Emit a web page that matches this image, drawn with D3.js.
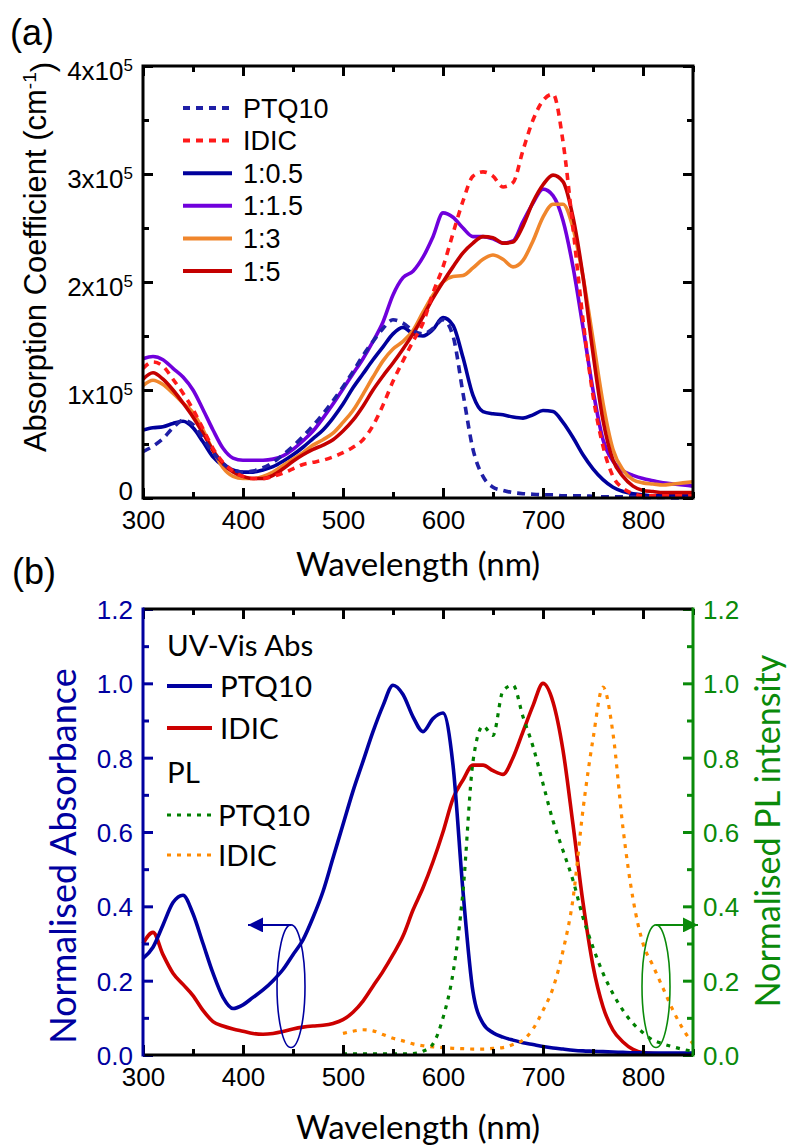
<!DOCTYPE html>
<html>
<head>
<meta charset="utf-8">
<script src="https://cdn.jsdelivr.net/npm/d3@7"></script>
<style>
  html, body { margin: 0; padding: 0; background: #fff; }
  svg { display: block; }
</style>
</head>
<body>
<svg id="fig" width="789" height="1147"></svg>
<script>
// ---------- Panel (a): absorption coefficient of neat films and blends (units of 1e5 cm^-1) ----------
const wlA = [300,310,320,330,340,350,360,370,380,390,400,410,420,430,440,450,460,470,480,490,
             500,510,520,530,540,550,560,570,580,590,600,610,620,630,640,650,660,670,680,690,
             700,710,720,730,740,750,760,770,780,790,800,810,820,830,840,850];

const absPTQ10 = [0.43,0.48,0.55,0.65,0.72,0.68,0.55,0.42,0.32,0.26,0.24,0.25,0.28,0.33,0.40,0.48,0.57,0.67,0.78,0.90,
                  1.03,1.17,1.32,1.45,1.57,1.65,1.62,1.55,1.52,1.57,1.65,1.50,0.97,0.45,0.20,0.10,0.07,0.05,0.04,0.035,
                  0.03,0.03,0.02,0.02,0.02,0.015,0.01,0.01,0.01,0.01,0.005,0.005,0.005,0.0,0.0,0.0];
const absIDIC  = [1.20,1.26,1.22,1.10,0.97,0.82,0.64,0.46,0.33,0.25,0.20,0.18,0.18,0.20,0.23,0.27,0.31,0.33,0.35,0.38,
                  0.42,0.47,0.54,0.67,0.86,1.08,1.27,1.45,1.62,1.90,2.14,2.45,2.75,2.98,3.02,2.98,2.88,2.92,3.22,3.50,
                  3.68,3.74,3.30,2.50,1.65,0.95,0.48,0.20,0.09,0.04,0.02,0.02,0.02,0.02,0.02,0.02];
const abs1to05 = [0.63,0.65,0.66,0.69,0.71,0.65,0.52,0.38,0.30,0.26,0.24,0.24,0.26,0.29,0.34,0.40,0.47,0.55,0.63,0.74,
                  0.87,1.02,1.15,1.28,1.40,1.52,1.58,1.52,1.50,1.56,1.67,1.60,1.30,0.95,0.80,0.78,0.77,0.75,0.74,0.77,
                  0.81,0.80,0.70,0.56,0.40,0.27,0.17,0.10,0.06,0.04,0.03,0.02,0.02,0.02,0.02,0.02];
const abs1to15 = [1.29,1.31,1.28,1.20,1.12,1.00,0.82,0.63,0.46,0.37,0.35,0.35,0.35,0.36,0.39,0.45,0.53,0.62,0.74,0.87,
                  1.01,1.15,1.29,1.45,1.63,1.88,2.04,2.10,2.23,2.42,2.64,2.60,2.50,2.42,2.42,2.40,2.36,2.38,2.56,2.73,
                  2.86,2.80,2.57,2.14,1.58,1.00,0.54,0.34,0.25,0.21,0.18,0.16,0.14,0.13,0.12,0.11];
const abs1to3  = [1.04,1.09,1.05,0.97,0.88,0.79,0.63,0.44,0.28,0.20,0.18,0.18,0.20,0.24,0.30,0.36,0.42,0.49,0.54,0.60,
                  0.70,0.81,0.96,1.12,1.27,1.38,1.45,1.55,1.72,1.88,2.00,2.05,2.06,2.13,2.21,2.25,2.21,2.14,2.20,2.38,
                  2.60,2.72,2.72,2.50,2.05,1.47,0.88,0.45,0.26,0.17,0.14,0.13,0.12,0.13,0.14,0.15];
const abs1to5  = [1.10,1.16,1.10,1.00,0.88,0.75,0.60,0.44,0.32,0.24,0.20,0.18,0.18,0.21,0.27,0.34,0.40,0.45,0.49,0.54,
                  0.62,0.72,0.85,1.00,1.13,1.25,1.38,1.52,1.68,1.85,2.00,2.14,2.27,2.36,2.42,2.41,2.36,2.37,2.52,2.74,
                  2.90,2.99,2.93,2.60,2.05,1.34,0.72,0.35,0.20,0.11,0.07,0.06,0.05,0.05,0.05,0.05];

const legendA = ["PTQ10", "IDIC", "1:0.5", "1:1.5", "1:3", "1:5"];
const xTicks = [300, 400, 500, 600, 700, 800];
const xMinor = [350, 450, 550, 650, 750, 850];
const yTicksA = [0, 1, 2, 3, 4];
const yMinorA = [0.5, 1.5, 2.5, 3.5];

// ---------- Panel (b): normalised absorbance and photoluminescence ----------
const wlB = wlA;
const normAbsPTQ10 = [0.26,0.29,0.35,0.41,0.43,0.38,0.30,0.22,0.155,0.125,0.135,0.155,0.175,0.20,0.23,0.27,0.31,0.37,0.44,0.53,
                      0.62,0.71,0.79,0.87,0.94,0.995,0.97,0.91,0.87,0.905,0.92,0.78,0.44,0.17,0.085,0.06,0.048,0.04,0.033,0.028,
                      0.023,0.019,0.016,0.013,0.011,0.01,0.009,0.008,0.007,0.006,0.006,0.005,0.005,0.005,0.005,0.005];
const normAbsIDIC  = [0.30,0.33,0.27,0.22,0.19,0.16,0.12,0.09,0.078,0.07,0.064,0.058,0.056,0.058,0.063,0.07,0.075,0.078,0.08,0.085,
                      0.095,0.115,0.145,0.185,0.225,0.27,0.32,0.39,0.45,0.52,0.60,0.69,0.74,0.78,0.78,0.765,0.755,0.80,0.87,0.94,
                      1.0,0.95,0.82,0.62,0.41,0.24,0.13,0.067,0.035,0.015,0.006,0.004,0.003,0.003,0.003,0.003];
const wlPL = [500,510,520,530,540,550,560,570,580,590,600,610,620,630,640,650,660,670,680,690,
              700,710,720,730,740,750,760,770,780,790,800,810,820,830,840,850];
const plPTQ10 = [0.003,0.003,0.003,0.003,0.003,0.003,0.003,0.004,0.01,0.03,0.10,0.22,0.44,0.79,0.885,0.86,0.98,0.995,0.91,0.83,
                 0.73,0.63,0.55,0.47,0.37,0.29,0.22,0.165,0.12,0.085,0.06,0.04,0.03,0.022,0.015,0.01];
const plIDIC  = [0.058,0.064,0.068,0.065,0.055,0.045,0.038,0.03,0.025,0.022,0.02,0.018,0.017,0.016,0.016,0.018,0.02,0.028,0.04,0.07,
                 0.12,0.18,0.28,0.42,0.66,0.85,0.99,0.865,0.61,0.42,0.30,0.24,0.18,0.12,0.07,0.03];

const yTicksB = [0.0, 0.2, 0.4, 0.6, 0.8, 1.0, 1.2];
const yMinorB = [0.1, 0.3, 0.5, 0.7, 0.9, 1.1];

// Ellipse + arrow markers tying each curve group to its axis (wavelength, normalised value)
const absMarker = { wl: 448, lo: 0.02, hi: 0.35, arrowTo: 405 };
const plMarker  = { wl: 813, lo: 0.02, hi: 0.35, arrowTo: 855 };

// ---------------------------------------------------------------------------
const ARIAL = "'Liberation Sans', Arial, Helvetica, sans-serif";
const HUMAN = "Lato, 'Open Sans', 'Noto Sans', sans-serif";
const TICK = 26;

const svg = d3.select("#fig");

const C = {
  navy: "#00009c", ptq: "#1f1fa6", idicDash: "#ff1a1a", purple: "#7000dc",
  orange: "#f0862c", darkred: "#c40000",
  bBlue: "#0000a0", bRed: "#cc0000", bGreen: "#008000", bOrange: "#ff8a00",
  axBlue: "#0000a0", axGreen: "#0a8a0a"
};

function styleAxis(g, color, fontFamily, fontSize) {
  g.select(".domain").remove();
  g.selectAll(".tick line").attr("stroke", color).attr("stroke-width", 3);
  g.selectAll(".tick text").attr("fill", color)
    .style("font-family", fontFamily).style("font-size", fontSize + "px");
}

// ===================== Panel (a) =====================
const xA = d3.scaleLinear().domain([300, 850]).range([143, 693]);
const yA = d3.scaleLinear().domain([0, 4]).range([498, 66]);
const gA = svg.append("g");

const lineA = vals => d3.line()
  .x((d, i) => xA(wlA[i]))
  .y(d => yA(d))
  .curve(d3.curveMonotoneX)(vals);

const seriesA = [
  { name: "1:0.5", v: abs1to05, color: C.navy,     dash: null },
  { name: "1:1.5", v: abs1to15, color: C.purple,   dash: null },
  { name: "1:3",   v: abs1to3,  color: C.orange,   dash: null },
  { name: "1:5",   v: abs1to5,  color: C.darkred,  dash: null },
  { name: "PTQ10", v: absPTQ10, color: C.ptq,      dash: "8,6" },
  { name: "IDIC",  v: absIDIC,  color: C.idicDash, dash: "7,6" }
];

gA.append("g").selectAll("path").data(seriesA).join("path")
  .attr("d", s => lineA(s.v))
  .attr("fill", "none")
  .attr("stroke", s => s.color)
  .attr("stroke-width", 3.6)
  .attr("stroke-dasharray", s => s.dash)
  .attr("stroke-linejoin", "round");

// axes (ticks point inward on all four sides)
const axA = gA.append("g");
axA.append("g").attr("transform", "translate(0,498)")
  .call(d3.axisBottom(xA).tickValues(xTicks).tickSize(-10).tickPadding(13).tickFormat(d3.format("d")))
  .call(g => styleAxis(g, "#000", ARIAL, TICK));
axA.append("g").attr("transform", "translate(0,498)")
  .call(d3.axisBottom(xA).tickValues(xMinor).tickSize(-6).tickFormat(""))
  .call(g => styleAxis(g, "#000", ARIAL, TICK));
axA.append("g").attr("transform", "translate(0,66)")
  .call(d3.axisTop(xA).tickValues(xTicks).tickSize(-10).tickFormat(""))
  .call(g => styleAxis(g, "#000", ARIAL, TICK));
axA.append("g").attr("transform", "translate(0,66)")
  .call(d3.axisTop(xA).tickValues(xMinor).tickSize(-6).tickFormat(""))
  .call(g => styleAxis(g, "#000", ARIAL, TICK));
axA.append("g").attr("transform", "translate(143,0)")
  .call(d3.axisLeft(yA).tickValues(yTicksA).tickSize(-10).tickPadding(10))
  .call(g => styleAxis(g, "#000", ARIAL, TICK))
  .call(g => g.selectAll(".tick text").attr("dy", d => d === 0 ? "0.05em" : "0.5em").each(function (d) {
    const t = d3.select(this).text(null);
    if (d === 0) { t.text("0"); return; }
    t.append("tspan").text(d + "x10");
    t.append("tspan").attr("dy", "-0.5em").style("font-size", "17px").text("5");
  }));
axA.append("g").attr("transform", "translate(143,0)")
  .call(d3.axisLeft(yA).tickValues(yMinorA).tickSize(-6).tickFormat(""))
  .call(g => styleAxis(g, "#000", ARIAL, TICK));
axA.append("g").attr("transform", "translate(693,0)")
  .call(d3.axisRight(yA).tickValues(yTicksA).tickSize(-10).tickFormat(""))
  .call(g => styleAxis(g, "#000", ARIAL, TICK));
axA.append("g").attr("transform", "translate(693,0)")
  .call(d3.axisRight(yA).tickValues(yMinorA).tickSize(-6).tickFormat(""))
  .call(g => styleAxis(g, "#000", ARIAL, TICK));

gA.append("rect").attr("x", 143).attr("y", 66).attr("width", 550).attr("height", 432)
  .attr("fill", "none").attr("stroke", "#000").attr("stroke-width", 3);

// legend (a)
const legA = gA.append("g").attr("transform", "translate(183,108)");
const legAStyle = { "PTQ10": seriesA[4], "IDIC": seriesA[5], "1:0.5": seriesA[0],
                    "1:1.5": seriesA[1], "1:3": seriesA[2], "1:5": seriesA[3] };
legendA.forEach((name, i) => {
  const s = legAStyle[name];
  const row = legA.append("g").attr("transform", `translate(0,${i * 32.6})`);
  row.append("line").attr("x1", 0).attr("x2", 49).attr("y1", 0).attr("y2", 0)
    .attr("stroke", s.color).attr("stroke-width", 4).attr("stroke-dasharray", s.dash ? "7,6" : null);
  row.append("text").attr("x", 60).attr("y", 9.5).text(name)
    .style("font-family", ARIAL).style("font-size", "27px").attr("fill", "#000");
});

// titles (a)
svg.append("text").attr("x", 10).attr("y", 45).text("(a)")
  .style("font-family", ARIAL).style("font-size", "36px");
svg.append("text").attr("x", 418).attr("y", 576).attr("text-anchor", "middle").text("Wavelength (nm)")
  .style("font-family", HUMAN).style("font-size", "33px");
const yTitleA = svg.append("text").attr("transform", "translate(46,257) rotate(-90)")
  .attr("text-anchor", "middle").style("font-family", ARIAL).style("font-size", "31px");
yTitleA.append("tspan").text("Absorption Coefficient (cm");
yTitleA.append("tspan").attr("dy", "-0.55em").style("font-size", "19px").text("-1");
yTitleA.append("tspan").attr("dy", "0.55em").text(")");

// ===================== Panel (b) =====================
const xB = d3.scaleLinear().domain([300, 850]).range([143, 693]);
const yB = d3.scaleLinear().domain([0, 1.2]).range([1055, 609]);
const gB = svg.append("g");

const lineB = (xs, vals) => d3.line()
  .x((d, i) => xB(xs[i]))
  .y(d => yB(d))
  .curve(d3.curveMonotoneX)(vals);

const seriesB = [
  { xs: wlB,  v: normAbsIDIC,  color: C.bRed,    dash: null },
  { xs: wlB,  v: normAbsPTQ10, color: C.bBlue,   dash: null },
  { xs: wlPL, v: plIDIC,       color: C.bOrange, dash: "4,6" },
  { xs: wlPL, v: plPTQ10,      color: C.bGreen,  dash: "4,6" }
];
gB.append("g").selectAll("path").data(seriesB).join("path")
  .attr("d", s => lineB(s.xs, s.v))
  .attr("fill", "none")
  .attr("stroke", s => s.color)
  .attr("stroke-width", s => s.dash ? 3.2 : 3.6)
  .attr("stroke-dasharray", s => s.dash)
  .attr("stroke-linejoin", "round");

const axB = gB.append("g");
axB.append("g").attr("transform", "translate(0,1055)")
  .call(d3.axisBottom(xB).tickValues(xTicks).tickSize(-10).tickPadding(13).tickFormat(d3.format("d")))
  .call(g => styleAxis(g, "#000", ARIAL, TICK));
axB.append("g").attr("transform", "translate(0,1055)")
  .call(d3.axisBottom(xB).tickValues(xMinor).tickSize(-6).tickFormat(""))
  .call(g => styleAxis(g, "#000", ARIAL, TICK));
axB.append("g").attr("transform", "translate(0,609)")
  .call(d3.axisTop(xB).tickValues(xTicks).tickSize(-10).tickFormat(""))
  .call(g => styleAxis(g, "#000", ARIAL, TICK));
axB.append("g").attr("transform", "translate(0,609)")
  .call(d3.axisTop(xB).tickValues(xMinor).tickSize(-6).tickFormat(""))
  .call(g => styleAxis(g, "#000", ARIAL, TICK));
axB.append("g").attr("transform", "translate(143,0)")
  .call(d3.axisLeft(yB).tickValues(yTicksB).tickSize(-10).tickPadding(10).tickFormat(d3.format(".1f")))
  .call(g => styleAxis(g, C.axBlue, ARIAL, TICK))
  .call(g => g.selectAll(".tick text").attr("dy", "0.36em"));
axB.append("g").attr("transform", "translate(143,0)")
  .call(d3.axisLeft(yB).tickValues(yMinorB).tickSize(-6).tickFormat(""))
  .call(g => styleAxis(g, C.axBlue, ARIAL, TICK));
axB.append("g").attr("transform", "translate(693,0)")
  .call(d3.axisRight(yB).tickValues(yTicksB).tickSize(-10).tickPadding(10).tickFormat(d3.format(".1f")))
  .call(g => styleAxis(g, C.axGreen, ARIAL, TICK))
  .call(g => g.selectAll(".tick text").attr("dy", "0.36em"));
axB.append("g").attr("transform", "translate(693,0)")
  .call(d3.axisRight(yB).tickValues(yMinorB).tickSize(-6).tickFormat(""))
  .call(g => styleAxis(g, C.axGreen, ARIAL, TICK));

// frame: coloured y axes, black x axes
gB.append("line").attr("x1", 143).attr("x2", 693).attr("y1", 609).attr("y2", 609).attr("stroke", "#000").attr("stroke-width", 3);
gB.append("line").attr("x1", 143).attr("x2", 693).attr("y1", 1055).attr("y2", 1055).attr("stroke", "#000").attr("stroke-width", 3);
gB.append("line").attr("x1", 143).attr("x2", 143).attr("y1", 607.5).attr("y2", 1056.5).attr("stroke", C.axBlue).attr("stroke-width", 3);
gB.append("line").attr("x1", 693).attr("x2", 693).attr("y1", 607.5).attr("y2", 1056.5).attr("stroke", C.axGreen).attr("stroke-width", 3);

// markers
const defs = svg.append("defs");
[["arrBlue", C.axBlue], ["arrGreen", C.axGreen]].forEach(([id, col]) => {
  defs.append("marker").attr("id", id).attr("viewBox", "0 0 10 10").attr("refX", 10).attr("refY", 5)
    .attr("markerUnits", "userSpaceOnUse").attr("markerWidth", 17).attr("markerHeight", 15)
    .attr("orient", "auto")
    .append("path").attr("d", "M0,0 L10,5 L0,10 Z").attr("fill", col);
});
[[absMarker, C.axBlue, "arrBlue"], [plMarker, C.axGreen, "arrGreen"]].forEach(([m, col, id]) => {
  const cx = xB(m.wl), top = yB(m.hi), bot = yB(m.lo);
  gB.append("ellipse").attr("cx", cx).attr("cy", (top + bot) / 2)
    .attr("rx", 14).attr("ry", (bot - top) / 2)
    .attr("fill", "none").attr("stroke", col).attr("stroke-width", 1.6);
  gB.append("line").attr("x1", cx).attr("x2", xB(m.arrowTo)).attr("y1", top).attr("y2", top)
    .attr("stroke", col).attr("stroke-width", 2).attr("marker-end", `url(#${id})`);
});

// legend (b)
const legB = gB.append("g");
const legText = (x, y, t) => legB.append("text").attr("x", x).attr("y", y).text(t)
  .style("font-family", HUMAN).style("font-size", "29.5px").attr("fill", "#000");
const legLine = (y, col, dash) => legB.append("line").attr("x1", 167).attr("x2", 212)
  .attr("y1", y).attr("y2", y).attr("stroke", col).attr("stroke-width", dash ? 3.2 : 4)
  .attr("stroke-dasharray", dash);
legText(167, 656, "UV-Vis Abs");
legLine(686, C.bBlue, null);   legText(220, 697, "PTQ10");
legLine(728, C.bRed, null);    legText(220, 739, "IDIC");
legText(167, 783, "PL");
legLine(815, C.bGreen, "4,6");  legText(218, 826, "PTQ10");
legLine(855, C.bOrange, "4,6"); legText(218, 866, "IDIC");

// titles (b)
svg.append("text").attr("x", 12).attr("y", 584).text("(b)")
  .style("font-family", ARIAL).style("font-size", "36px");
svg.append("text").attr("x", 418).attr("y", 1139).attr("text-anchor", "middle").text("Wavelength (nm)")
  .style("font-family", HUMAN).style("font-size", "33px");
svg.append("text").attr("transform", "translate(76,856) rotate(-90)").attr("text-anchor", "middle")
  .text("Normalised Absorbance").attr("fill", C.axBlue)
  .style("font-family", HUMAN).style("font-size", "36px");
svg.append("text").attr("transform", "translate(780,831) rotate(-90)").attr("text-anchor", "middle")
  .text("Normalised PL intensity").attr("fill", C.axGreen)
  .style("font-family", HUMAN).style("font-size", "34px");
</script>
</body>
</html>
